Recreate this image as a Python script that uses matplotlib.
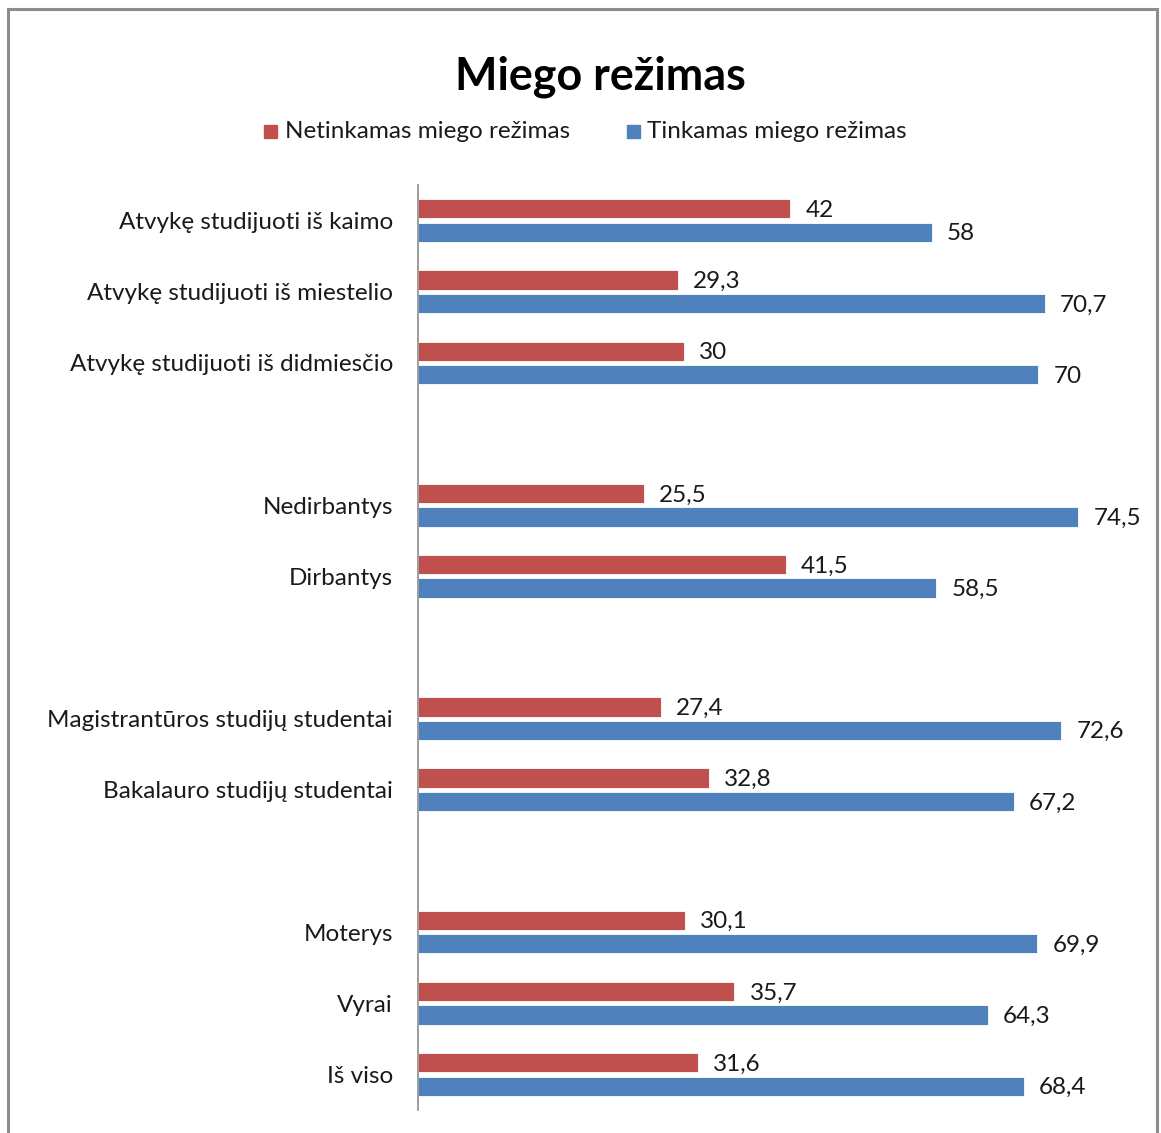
import matplotlib
matplotlib.use("Agg")
import matplotlib.pyplot as plt
from matplotlib.patches import Rectangle
import numpy as np

plt.rcParams['font.family'] = ['Lato', 'DejaVu Sans']

# Data (top to bottom as in the chart; '' = empty spacer slot)
categories = [
    "Atvykę studijuoti iš kaimo",
    "Atvykę studijuoti iš miestelio",
    "Atvykę studijuoti iš didmiesčio",
    "",
    "Nedirbantys",
    "Dirbantys",
    "",
    "Magistrantūros studijų studentai",
    "Bakalauro studijų studentai",
    "",
    "Moterys",
    "Vyrai",
    "Iš viso",
]
netinkamas = [42, 29.3, 30, None, 25.5, 41.5, None, 27.4, 32.8, None, 30.1, 35.7, 31.6]
tinkamas = [58, 70.7, 70, None, 74.5, 58.5, None, 72.6, 67.2, None, 69.9, 64.3, 68.4]
series_names = ["Netinkamas miego režimas", "Tinkamas miego režimas"]
title = "Miego režimas"

red = "#C0504D"
blue = "#4F81BD"
fs = 17.5

W, H = 1161, 1133
fig = plt.figure(figsize=(W / 100, H / 100), dpi=100)

# outer frame
fig.patches.append(Rectangle((8 / W, -0.02), (1157 - 8) / W, (H - 9) / H + 0.02,
                             transform=fig.transFigure, fill=False,
                             edgecolor="#8c8c8c", linewidth=2.2))

ax = fig.add_axes([418 / W, (H - 1110) / H, (1150 - 418) / W, (1110 - 185) / H])

n = len(categories)
ypos = np.arange(n)[::-1]  # top category at highest y
h = 0.27
off = 0.165

def fmt(v):
    s = f"{v:g}"
    return s.replace(".", ",")

for i in range(n):
    y = ypos[i]
    if netinkamas[i] is not None:
        ax.barh(y + off, netinkamas[i], height=h, color=red, edgecolor="white", linewidth=0.6)
        ax.text(netinkamas[i] + 1.7, y + off - 0.02, fmt(netinkamas[i]), va="center", ha="left",
                fontsize=fs, color="#1a1a1a")
    if tinkamas[i] is not None:
        ax.barh(y - off, tinkamas[i], height=h, color=blue, edgecolor="white", linewidth=0.6)
        ax.text(tinkamas[i] + 1.7, y - off - 0.02, fmt(tinkamas[i]), va="center", ha="left",
                fontsize=fs, color="#1a1a1a")

ax.set_xlim(0, 82.6)
ax.set_ylim(-0.5, n - 0.5)
ax.set_yticks(ypos)
ax.set_yticklabels(categories, fontsize=fs, color="#1a1a1a")
ax.tick_params(axis="y", length=0, pad=18)
ax.set_xticks([])
for s in ["top", "right", "bottom"]:
    ax.spines[s].set_visible(False)
ax.spines["left"].set_color("#8c8c8c")
ax.spines["left"].set_linewidth(1.2)

fig.text(600 / W, 1 - 77 / H, title, ha="center", va="center", fontsize=32.3,
         fontweight="bold", color="black")

# legend
ly = 1 - 132 / H
sq = 13
fig.patches.append(Rectangle((264 / W, ly - sq / 2 / H), sq / W, sq / H,
                             transform=fig.transFigure, color=red))
fig.text(285 / W, ly, series_names[0], ha="left", va="center", fontsize=fs, color="#1a1a1a")
fig.patches.append(Rectangle((627 / W, ly - sq / 2 / H), sq / W, sq / H,
                             transform=fig.transFigure, color=blue))
fig.text(647 / W, ly, series_names[1], ha="left", va="center", fontsize=fs, color="#1a1a1a")

fig.savefig("out.png", dpi=100)
